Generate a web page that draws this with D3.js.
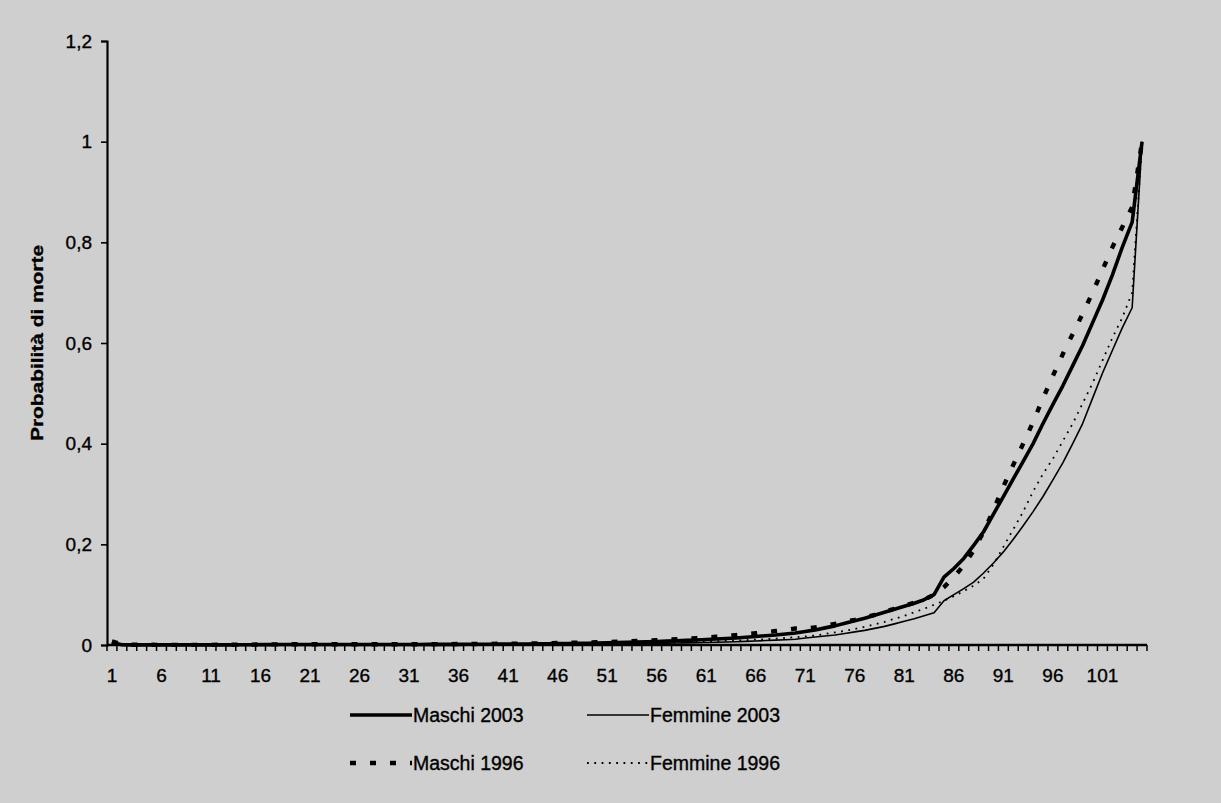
<!DOCTYPE html>
<html>
<head>
<meta charset="utf-8">
<script src="https://cdn.jsdelivr.net/npm/d3@7"></script>
<style>
  html, body { margin: 0; padding: 0; background: #cfcfcf; }
  svg { display: block; }
  text { font-family: "Liberation Sans", Arial, sans-serif; fill: #000; stroke: #000; stroke-width: 0.35px; }
</style>
</head>
<body>
<svg id="chart" width="1221" height="803"></svg>
<script>
// ---------- DATA ----------
const ages = d3.range(1, 106); // categories 1..105
const xTickLabels = [1, 6, 11, 16, 21, 26, 31, 36, 41, 46, 51, 56, 61, 66, 71, 76, 81, 86, 91, 96, 101];
const yTickValues = [0, 0.2, 0.4, 0.6, 0.8, 1, 1.2];
const seriesNames = ["Maschi 2003", "Femmine 2003", "Maschi 1996", "Femmine 1996"];

const maschi2003 = [
  0.005, 0.0005, 0.0003, 0.0002, 0.0002, 0.0002, 0.0002, 0.0002, 0.0002, 0.0002,
  0.0002, 0.0003, 0.0003, 0.0004, 0.0005, 0.0007, 0.0008, 0.0009, 0.001, 0.001,
  0.001, 0.001, 0.001, 0.001, 0.001, 0.001, 0.001, 0.001, 0.001, 0.001,
  0.0011, 0.0011, 0.0012, 0.0012, 0.0013, 0.0013, 0.0014, 0.0015, 0.0016, 0.0017,
  0.0018, 0.0019, 0.0021, 0.0023, 0.0025, 0.0027, 0.003, 0.0033, 0.0036, 0.004,
  0.0044, 0.0048, 0.0053, 0.0058, 0.0064, 0.007, 0.0077, 0.0084, 0.0092, 0.01,
  0.011, 0.012, 0.013, 0.014, 0.0155, 0.017, 0.0185, 0.02, 0.022, 0.024,
  0.027, 0.030, 0.034, 0.038, 0.043, 0.048, 0.053, 0.059, 0.065, 0.071,
  0.077, 0.083, 0.090, 0.100, 0.135, 0.152, 0.172, 0.198, 0.225, 0.26,
  0.295, 0.33, 0.365, 0.40, 0.44, 0.478, 0.515, 0.555, 0.595, 0.64,
  0.685, 0.735, 0.79, 0.84, 1.0
];
const femmine2003 = [
  0.004, 0.0004, 0.0002, 0.0002, 0.0002, 0.0002, 0.0002, 0.0002, 0.0002, 0.0002,
  0.0002, 0.0002, 0.0002, 0.0002, 0.0003, 0.0003, 0.0003, 0.0004, 0.0004, 0.0004,
  0.0003, 0.0003, 0.0003, 0.0003, 0.0004, 0.0004, 0.0004, 0.0004, 0.0005, 0.0005,
  0.0005, 0.0005, 0.0006, 0.0006, 0.0006, 0.0007, 0.0007, 0.0008, 0.0008, 0.0008,
  0.0009, 0.001, 0.0011, 0.0012, 0.0013, 0.0014, 0.0016, 0.0018, 0.002, 0.0022,
  0.0024, 0.0026, 0.0028, 0.003, 0.0032, 0.0034, 0.0037, 0.004, 0.0042, 0.0045,
  0.005, 0.0055, 0.006, 0.0066, 0.0073, 0.008, 0.0088, 0.0096, 0.0105, 0.0115,
  0.014, 0.016, 0.018, 0.02, 0.023, 0.026, 0.029, 0.033, 0.037, 0.042,
  0.047, 0.052, 0.058, 0.064, 0.088, 0.10, 0.112, 0.125, 0.143, 0.163,
  0.185, 0.21, 0.237, 0.265, 0.295, 0.328, 0.362, 0.40, 0.44, 0.49,
  0.54, 0.585, 0.63, 0.67, 1.0
];
const maschi1996 = [
  0.007, 0.0012, 0.0006, 0.0004, 0.0004, 0.0003, 0.0003, 0.0003, 0.0003, 0.0003,
  0.0003, 0.0004, 0.0005, 0.0006, 0.0008, 0.001, 0.0012, 0.0013, 0.0014, 0.0014,
  0.0014, 0.0014, 0.0014, 0.0014, 0.0014, 0.0014, 0.0014, 0.0014, 0.0015, 0.0015,
  0.0015, 0.0016, 0.0016, 0.0017, 0.0018, 0.0019, 0.002, 0.0021, 0.0022, 0.0024,
  0.0026, 0.0028, 0.003, 0.0033, 0.0036, 0.0039, 0.0042, 0.0046, 0.005, 0.0055,
  0.006, 0.0066, 0.0072, 0.0079, 0.0087, 0.0095, 0.0104, 0.0114, 0.0125, 0.0137,
  0.015, 0.0164, 0.018, 0.0196, 0.0214, 0.0233, 0.0254, 0.0277, 0.030, 0.0327,
  0.032, 0.035, 0.038, 0.042, 0.046, 0.050, 0.055, 0.060, 0.066, 0.072,
  0.078, 0.084, 0.090, 0.100, 0.115, 0.135, 0.158, 0.188, 0.225, 0.268,
  0.315, 0.358, 0.40, 0.443, 0.49, 0.535, 0.578, 0.618, 0.658, 0.70,
  0.745, 0.79, 0.83, 0.87, 1.0
];
const femmine1996 = [
  0.006, 0.0008, 0.0004, 0.0003, 0.0003, 0.0002, 0.0002, 0.0002, 0.0002, 0.0002,
  0.0002, 0.0002, 0.0003, 0.0003, 0.0004, 0.0004, 0.0004, 0.0005, 0.0005, 0.0005,
  0.0005, 0.0005, 0.0005, 0.0005, 0.0005, 0.0005, 0.0005, 0.0006, 0.0006, 0.0006,
  0.0006, 0.0007, 0.0007, 0.0008, 0.0008, 0.0009, 0.0009, 0.001, 0.0011, 0.0012,
  0.0013, 0.0014, 0.0015, 0.0016, 0.0018, 0.0019, 0.0021, 0.0023, 0.0025, 0.0027,
  0.003, 0.0032, 0.0035, 0.0038, 0.0041, 0.0044, 0.0048, 0.0052, 0.0057, 0.0062,
  0.0068, 0.0074, 0.0081, 0.0089, 0.0097, 0.0106, 0.0116, 0.0127, 0.014, 0.0154,
  0.017, 0.019, 0.022, 0.025, 0.028, 0.032, 0.036, 0.041, 0.046, 0.052,
  0.058, 0.065, 0.072, 0.08, 0.088, 0.097, 0.107, 0.118, 0.132, 0.16,
  0.195, 0.23, 0.265, 0.305, 0.34, 0.37, 0.405, 0.44, 0.48, 0.52,
  0.565, 0.61, 0.65, 0.70, 1.0
];

// ---------- STYLES ----------
const styles = {
  "Maschi 2003":  { width: 3.6, dash: null },
  "Femmine 2003": { width: 1.6, dash: null },
  "Maschi 1996":  { width: 4.4, dash: "6,14" },
  "Femmine 1996": { width: 1.8, dash: "1.8,5.5" }
};
const seriesData = {
  "Maschi 2003": maschi2003,
  "Femmine 2003": femmine2003,
  "Maschi 1996": maschi1996,
  "Femmine 1996": femmine1996
};

// ---------- LAYOUT ----------
const svg = d3.select("#chart");
const plot = { left: 107, right: 1147, top: 41, bottom: 645 };

svg.append("rect").attr("x", 0).attr("y", 0).attr("width", 1221).attr("height", 803).attr("fill", "#cfcfcf");

const x = d3.scaleBand().domain(ages).range([plot.left, plot.right]).padding(0);
const y = d3.scaleLinear().domain([0, 1.2]).range([plot.bottom, plot.top]);
const cx = d => x(d) + x.bandwidth() / 2;

const drawOrder = ["Femmine 2003", "Femmine 1996", "Maschi 1996", "Maschi 2003"];
const line = d3.line().x((d, i) => cx(ages[i])).y(d => y(d));
drawOrder.forEach(name => {
  const st = styles[name];
  svg.append("path")
    .datum(seriesData[name])
    .attr("d", line)
    .attr("fill", "none")
    .attr("stroke", "#000")
    .attr("stroke-width", st.width)
    .attr("stroke-linejoin", "round")
    .attr("stroke-linecap", "butt")
    .attr("stroke-dasharray", st.dash);
});

// Y axis
const yAxis = d3.axisLeft(y)
  .tickValues(yTickValues)
  .tickSize(6)
  .tickPadding(9)
  .tickFormat(d => (Number.isInteger(d) ? String(d) : d.toFixed(1).replace(".", ",")));
const gy = svg.append("g").attr("transform", `translate(${plot.left},0)`).call(yAxis);
gy.select(".domain").attr("stroke", "#000").attr("stroke-width", 2.2);
gy.selectAll(".tick line").attr("stroke", "#000").attr("stroke-width", 1.6);
gy.selectAll(".tick text").style("font-size", "19px").attr("font-family", "Liberation Sans, Arial, sans-serif");

// X axis: line + boundary ticks + labels
const gx = svg.append("g");
gx.append("line")
  .attr("x1", plot.left).attr("x2", plot.right)
  .attr("y1", y(0)).attr("y2", y(0))
  .attr("stroke", "#000").attr("stroke-width", 2.6);
const boundaries = ages.map(a => x(a)).concat([x(ages[ages.length - 1]) + x.bandwidth()]);
gx.selectAll("line.btick").data(boundaries).enter().append("line")
  .attr("class", "btick")
  .attr("x1", d => d).attr("x2", d => d)
  .attr("y1", y(0)).attr("y2", y(0) + 6)
  .attr("stroke", "#000").attr("stroke-width", 1.5);
gx.selectAll("text.xl").data(xTickLabels).enter().append("text")
  .attr("class", "xl")
  .attr("x", d => cx(d))
  .attr("y", y(0) + 37)
  .attr("text-anchor", "middle")
  .style("font-size", "19px")
  .text(d => d);

// Y axis title
svg.append("text")
  .attr("transform", "translate(43,343) rotate(-90)")
  .attr("text-anchor", "middle")
  .attr("textLength", 196)
  .attr("lengthAdjust", "spacingAndGlyphs")
  .style("font-size", "17px")
  .style("font-weight", "bold")
  .text("Probabilità di morte");

// Legend
const legendItems = [
  { name: "Maschi 2003", x: 350, y: 715 },
  { name: "Femmine 2003", x: 587, y: 715 },
  { name: "Maschi 1996", x: 350, y: 763 },
  { name: "Femmine 1996", x: 587, y: 763 }
];
const lg = svg.append("g");
legendItems.forEach(it => {
  const st = styles[it.name];
  lg.append("line")
    .attr("x1", it.x).attr("x2", it.x + 62)
    .attr("y1", it.y).attr("y2", it.y)
    .attr("stroke", "#000")
    .attr("stroke-width", st.width)
    .attr("stroke-dasharray", st.dash);
  lg.append("text")
    .attr("x", it.x + 63)
    .attr("y", it.y + 7)
    .style("font-size", "19.5px")
    .text(it.name);
});
</script>
</body>
</html>
